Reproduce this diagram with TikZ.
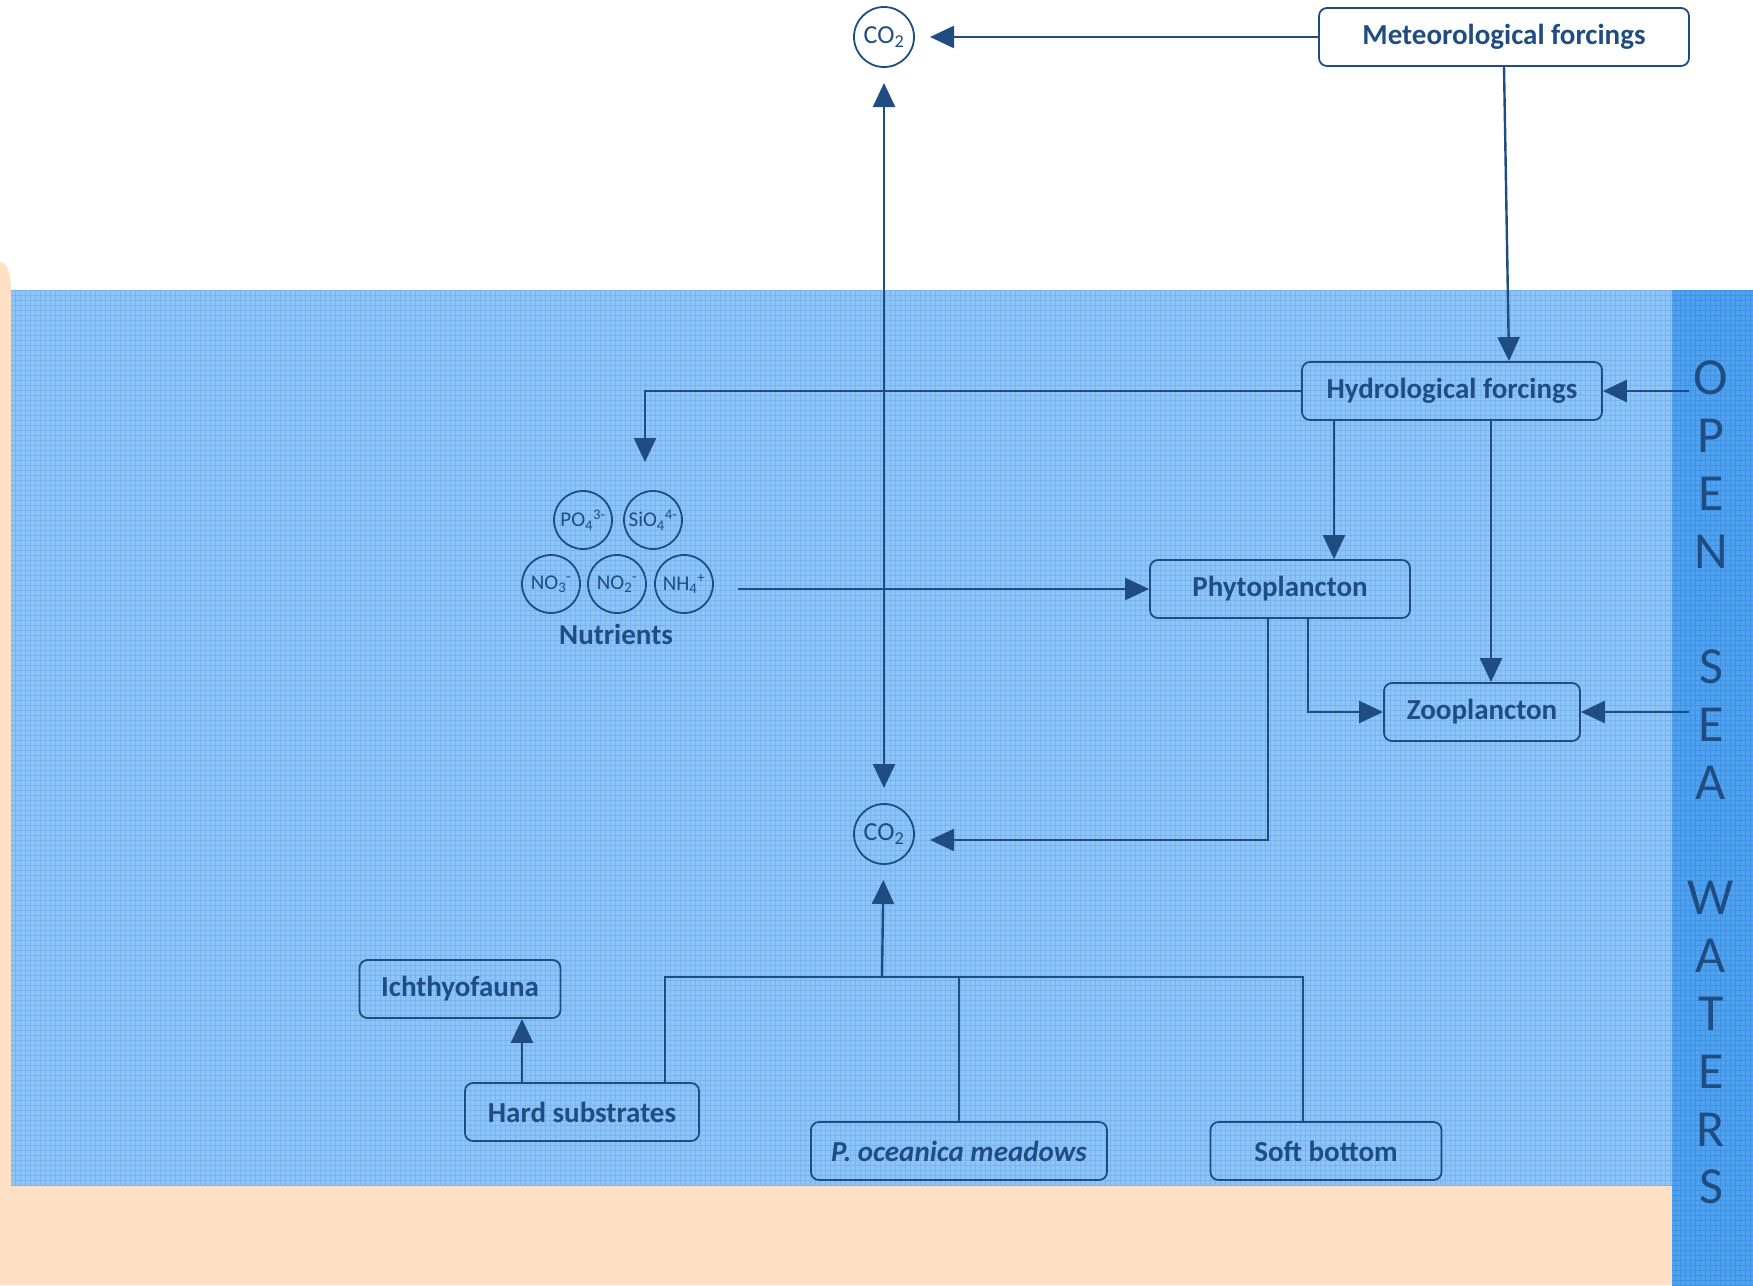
\documentclass[tikz,border=0pt]{standalone}
\usepackage{fontspec}
\setmainfont{Carlito}
\usetikzlibrary{arrows.meta,positioning,calc}

\definecolor{navy}{RGB}{31,77,130}
\definecolor{water}{RGB}{142,197,246}
\definecolor{waterline}{RGB}{118,180,242}
\definecolor{opensea}{RGB}{80,161,238}
\definecolor{openline}{RGB}{62,146,232}
\definecolor{sand}{RGB}{255,224,196}

\begin{document}
\begin{tikzpicture}
  [x=1pt,y=-1pt,color=navy,line width=2.4pt,
   >={Triangle[length=24pt,width=22pt]},
   box/.style={draw,line width=1.8pt,rounded corners=8pt,minimum height=58pt,
     inner sep=0pt,font=\fontsize{29}{33}\selectfont\bfseries},
   co2/.style={circle,draw,line width=1.8pt,minimum size=60pt,inner sep=0pt,
     outer sep=16pt,font=\fontsize{26}{30}\selectfont},
   ion/.style={circle,draw,line width=1.8pt,minimum size=58pt,inner sep=0pt,
     font=\fontsize{21}{24}\selectfont},
   sealetter/.style={font=\fontsize{52}{60}\selectfont}]
  \useasboundingbox (0,0) rectangle (1753,1285);

  % sand, lagoon water and open sea
  \fill[sand] (0,290) -- (0,262) .. controls (7,262) and (11,272) .. (11,290)
    -- (11,1185) -- (1672,1185) -- (1672,1285) -- (0,1285) -- cycle;
  \fill[water] (11,290) rectangle (1672,1185);
  \draw[waterline,line width=0.8pt,step=5pt] (11,290) grid (1672,1185);
  \fill[opensea] (1672,290) rectangle (1753,1285);
  \draw[openline,line width=0.8pt,step=5pt] (1672,290) grid (1753,1285);

  \node[co2] (co2t) at (884,37)  {CO\textsubscript{2}};
  \node[co2] (co2b) at (884,834) {CO\textsubscript{2}};
  \node[box,minimum width=370pt] (met)    at (1504,37)  {Meteorological forcings};
  \node[box,minimum width=300pt] (hydro)  at (1452,391) {Hydrological forcings};
  \node[box,minimum width=260pt] (phyto)  at (1280,589) {Phytoplancton};
  \node[box,minimum width=196pt] (zoo)    at (1482,712) {Zooplancton};
  \node[box,minimum width=201pt] (ichthy) at (460,989)  {Ichthyofauna};
  \node[box,minimum width=234pt] (hard)   at (582,1112) {Hard substrates};
  \node[box,minimum width=296pt] (posi)   at (959,1151) {\itshape P. oceanica meadows};
  \node[box,minimum width=231pt] (soft)   at (1326,1151) {Soft bottom};

  % nutrients
  \node[ion] (po4)  at (583,520) {PO\textsubscript{4}\textsuperscript{3-}};
  \node[ion] (sio4) at (653,520) {SiO\textsubscript{4}\textsuperscript{4-}};
  \node[ion] (no3)  at (551,584) {NO\textsubscript{3}\textsuperscript{-}};
  \node[ion] (no2)  at (617,584) {NO\textsubscript{2}\textsuperscript{-}};
  \node[ion] (nh4)  at (684,584) {NH\textsubscript{4}\textsuperscript{+}};
  \node[font=\fontsize{29}{33}\selectfont\bfseries] (nutri) at (616,634) {Nutrients};

  \foreach \l/\k in {O/0,P/1,E/2,N/3,S/5,E/6,A/7,W/9,A/10,T/11,E/12,R/13,S/14}
    \node[sealetter] (sea\k) at (1711,{378+57.8*\k}) {\l};

  \coordinate (nutin)  at (645,462);
  \coordinate (nutout) at (738,589);
  \coordinate (sea1)   at (1689,391);
  \coordinate (sea2)   at (1689,712);
  \coordinate (jn)     at (882,977);

  \foreach \from/\to in {met/co2t, sea1/hydro, sea2/zoo, nutout/phyto, jn/co2b}
    \draw[->] (\from) -- (\to);
  \draw[<->] (co2t) -- (co2b);
  \draw[->] (met.south) -- ([xshift=57pt]hydro.north);
  \draw[->] (hydro.west) -| (nutin);
  \draw[->] ([xshift=-118pt]hydro.south) -- ([xshift=-118pt]hydro.south |- phyto.north);
  \draw[->] ([xshift=39pt]hydro.south) -- ([xshift=39pt]hydro.south |- zoo.north);
  \draw[->] ([xshift=28pt]phyto.south) |- (zoo.west);
  \draw[->] ([xshift=-12pt]phyto.south) |- ([yshift=-6pt]co2b.east);
  \draw ([xshift=83pt]hard.north) |- ([xshift=-23pt]soft.north |- jn)
    -- ([xshift=-23pt]soft.north);
  \draw (posi.north) -- (posi.north |- jn);
  \draw[->] ([xshift=-60pt]hard.north) -- ([xshift=-60pt]hard.north |- ichthy.south);
\end{tikzpicture}
\end{document}
